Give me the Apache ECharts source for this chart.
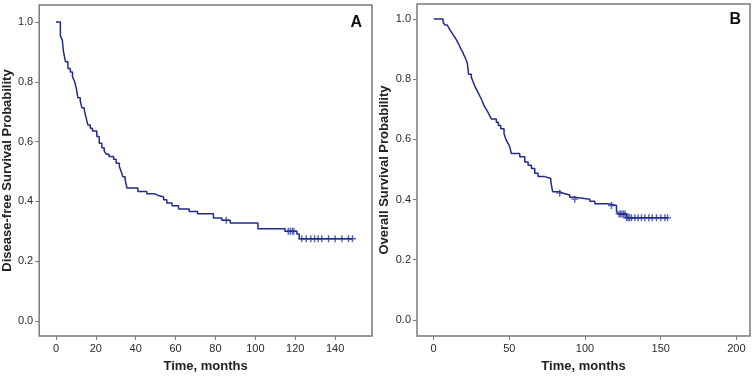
<!DOCTYPE html>
<html>
<head>
<meta charset="utf-8">
<script src="https://cdn.jsdelivr.net/npm/echarts@6/dist/echarts.min.js"></script>
<style>
  html, body { margin: 0; padding: 0; background: #fff; }
  #main { width: 755px; height: 378px; }
</style>
</head>
<body>
<div id="main"></div>
<script>
// panel A: disease-free survival (months, probability)
const dfsTime = [0, 2.2, 3.2, 3.8, 4.8, 6, 7.2, 8.3, 9.3, 10.2, 11, 12.2, 13, 14.2, 15.2, 16, 17.2, 18.3,
  20.5, 21.7, 23, 24.2, 25.2, 26.6, 28.9, 30.2, 31.8, 32.7, 33.5, 34.7, 35.6, 41.1, 45.6, 49.3, 51, 54,
  55.6, 58.2, 61.5, 66.8, 71, 79, 83.2, 87.4, 101.3, 114.9, 120.8, 122, 148.7];
const dfsSurv = [1.0, 0.955, 0.939, 0.9, 0.867, 0.845, 0.833, 0.817, 0.802, 0.778, 0.747, 0.736, 0.713, 0.706, 0.678, 0.656, 0.645, 0.636,
  0.617, 0.595, 0.58, 0.569, 0.558, 0.55, 0.541, 0.528, 0.517, 0.5, 0.483, 0.472, 0.445, 0.433, 0.426, 0.421, 0.415, 0.406,
  0.395, 0.386, 0.375, 0.366, 0.359, 0.345, 0.337, 0.328, 0.309, 0.3, 0.291, 0.275, 0.275];
const dfsCensor = [85.4, 116.5, 117.5, 118.5, 119.3, 123.3, 125.5, 127.8, 129.7, 131.5, 133.3, 136.7, 140, 143.4, 146.7, 148.7];

// panel B: overall survival
const osTime = [0, 6.2, 7.5, 9, 10.1, 11, 12.1, 13.2, 14.3, 15.2, 16.1, 17, 17.6, 18.5, 19.4, 20.1, 20.9, 21.5, 22.2,
  23.1, 24.9, 26, 27.1, 28.2, 29.3, 30.4, 31.5, 32.4, 33.3, 34.6, 35.9, 37, 38.1, 41.4, 42.8, 44.3, 46.5, 47.2, 48,
  49.2, 50.3, 51.3, 56.9, 60.2, 62.4, 64.6, 66.8, 69, 73.4, 77.4, 78.6, 83.3, 85.5, 89.9, 93.2, 103.2, 106.5,
  115.3, 120.8, 122, 127.4, 154.5];
const osSurv = [1.0, 0.99, 0.98, 0.975, 0.97, 0.962, 0.954, 0.945, 0.937, 0.929, 0.921, 0.912, 0.904, 0.896, 0.888, 0.879, 0.871, 0.863, 0.855,
  0.816, 0.806, 0.792, 0.778, 0.767, 0.756, 0.745, 0.734, 0.723, 0.712, 0.701, 0.69, 0.679, 0.668, 0.657, 0.646, 0.635, 0.619, 0.608, 0.597,
  0.586, 0.575, 0.553, 0.542, 0.525, 0.514, 0.503, 0.487, 0.476, 0.47, 0.459, 0.426, 0.421, 0.415, 0.407, 0.401, 0.394, 0.386,
  0.38, 0.36, 0.352, 0.339, 0.339];
const osCensor = [83.3, 93.2, 117.5, 122.5, 123.5, 124.5, 125.5, 126.5, 127.5, 128.5, 129.5, 130.7, 132.9, 135.1, 137.3,
  139.5, 142.2, 144.4, 147.2, 150.1, 152.8, 154.5];

const xTicksA = [0, 20, 40, 60, 80, 100, 120, 140];
const xTicksB = [0, 50, 100, 150, 200];
const yTicks = [0, 0.2, 0.4, 0.6, 0.8, 1.0];

const lineColor = '#1f2c8c';
const frameColor = '#7a7a7a';
const font = 'Arial, "Liberation Sans", sans-serif';
const plus = 'path://M4,0H6V4H10V6H6V10H4V6H0V4H4Z';

function survAt(times, surv, t) {
  let s = surv[0];
  for (let i = 0; i < times.length; i++) {
    if (times[i] <= t) s = surv[i];
  }
  return s;
}

const zip = (a, b) => a.map((v, i) => [v, b[i]]);
const censorPts = (c, times, surv) => c.map(t => [t, survAt(times, surv, t)]);

function xAxis(idx, min, max, ticks) {
  return {
    type: 'value', gridIndex: idx, min: min, max: max,
    name: 'Time, months', nameLocation: 'middle', nameGap: 24,
    nameTextStyle: { fontFamily: font, fontWeight: 'bold', fontSize: 13, color: '#222' },
    axisLine: { show: false, onZero: false },
    splitLine: { show: false },
    axisTick: { show: true, length: 4, customValues: ticks, lineStyle: { color: frameColor } },
    axisLabel: { customValues: ticks, margin: 7, fontFamily: font, fontSize: 11, color: '#2a2a2a' }
  };
}

function yAxis(idx, min, max, title, gap) {
  return {
    type: 'value', gridIndex: idx, min: min, max: max,
    name: title, nameLocation: 'middle', nameGap: gap,
    nameTextStyle: { fontFamily: font, fontWeight: 'bold', fontSize: 13, color: '#222' },
    axisLine: { show: false, onZero: false },
    splitLine: { show: false },
    axisTick: { show: true, length: 4, customValues: yTicks, lineStyle: { color: frameColor } },
    axisLabel: { customValues: yTicks, margin: 6, fontFamily: font, fontSize: 11, color: '#2a2a2a',
      formatter: v => v.toFixed(1) }
  };
}

const chart = echarts.init(document.getElementById('main'), null, { renderer: 'canvas' });

const option = {
  backgroundColor: '#fff',
  animation: false,
  title: [
    { text: 'A', right: 388, top: 10, textStyle: { fontFamily: font, fontWeight: 'bold', fontSize: 16, color: '#111' } },
    { text: 'B', right: 9, top: 7, textStyle: { fontFamily: font, fontWeight: 'bold', fontSize: 16, color: '#111' } }
  ],
  grid: [
    { left: 39, top: 5, right: 383, bottom: 41, show: true, borderColor: frameColor, borderWidth: 1.5 },
    { left: 417, top: 4, right: 5, bottom: 39, show: true, borderColor: frameColor, borderWidth: 1.5 }
  ],
  xAxis: [
    xAxis(0, -8.4, 158.5, xTicksA),
    xAxis(1, -11, 209, xTicksB)
  ],
  yAxis: [
    yAxis(0, -0.05, 1.057, 'Disease-free Survival Probability', 24),
    yAxis(1, -0.054, 1.05, 'Overall Survival Probability', 26)
  ],
  series: [
    {
      type: 'line', xAxisIndex: 0, yAxisIndex: 0, step: 'end', showSymbol: false,
      lineStyle: { color: lineColor, width: 1.5 },
      data: zip(dfsTime, dfsSurv)
    },
    {
      type: 'scatter', xAxisIndex: 0, yAxisIndex: 0, symbol: plus, symbolSize: 7,
      itemStyle: { color: '#2a3aa0' },
      data: censorPts(dfsCensor, dfsTime, dfsSurv)
    },
    {
      type: 'line', xAxisIndex: 1, yAxisIndex: 1, step: 'end', showSymbol: false,
      lineStyle: { color: lineColor, width: 1.5 },
      data: zip(osTime, osSurv)
    },
    {
      type: 'scatter', xAxisIndex: 1, yAxisIndex: 1, symbol: plus, symbolSize: 7,
      itemStyle: { color: '#2a3aa0' },
      data: censorPts(osCensor, osTime, osSurv)
    }
  ]
};

chart.setOption(option);
</script>
</body>
</html>
